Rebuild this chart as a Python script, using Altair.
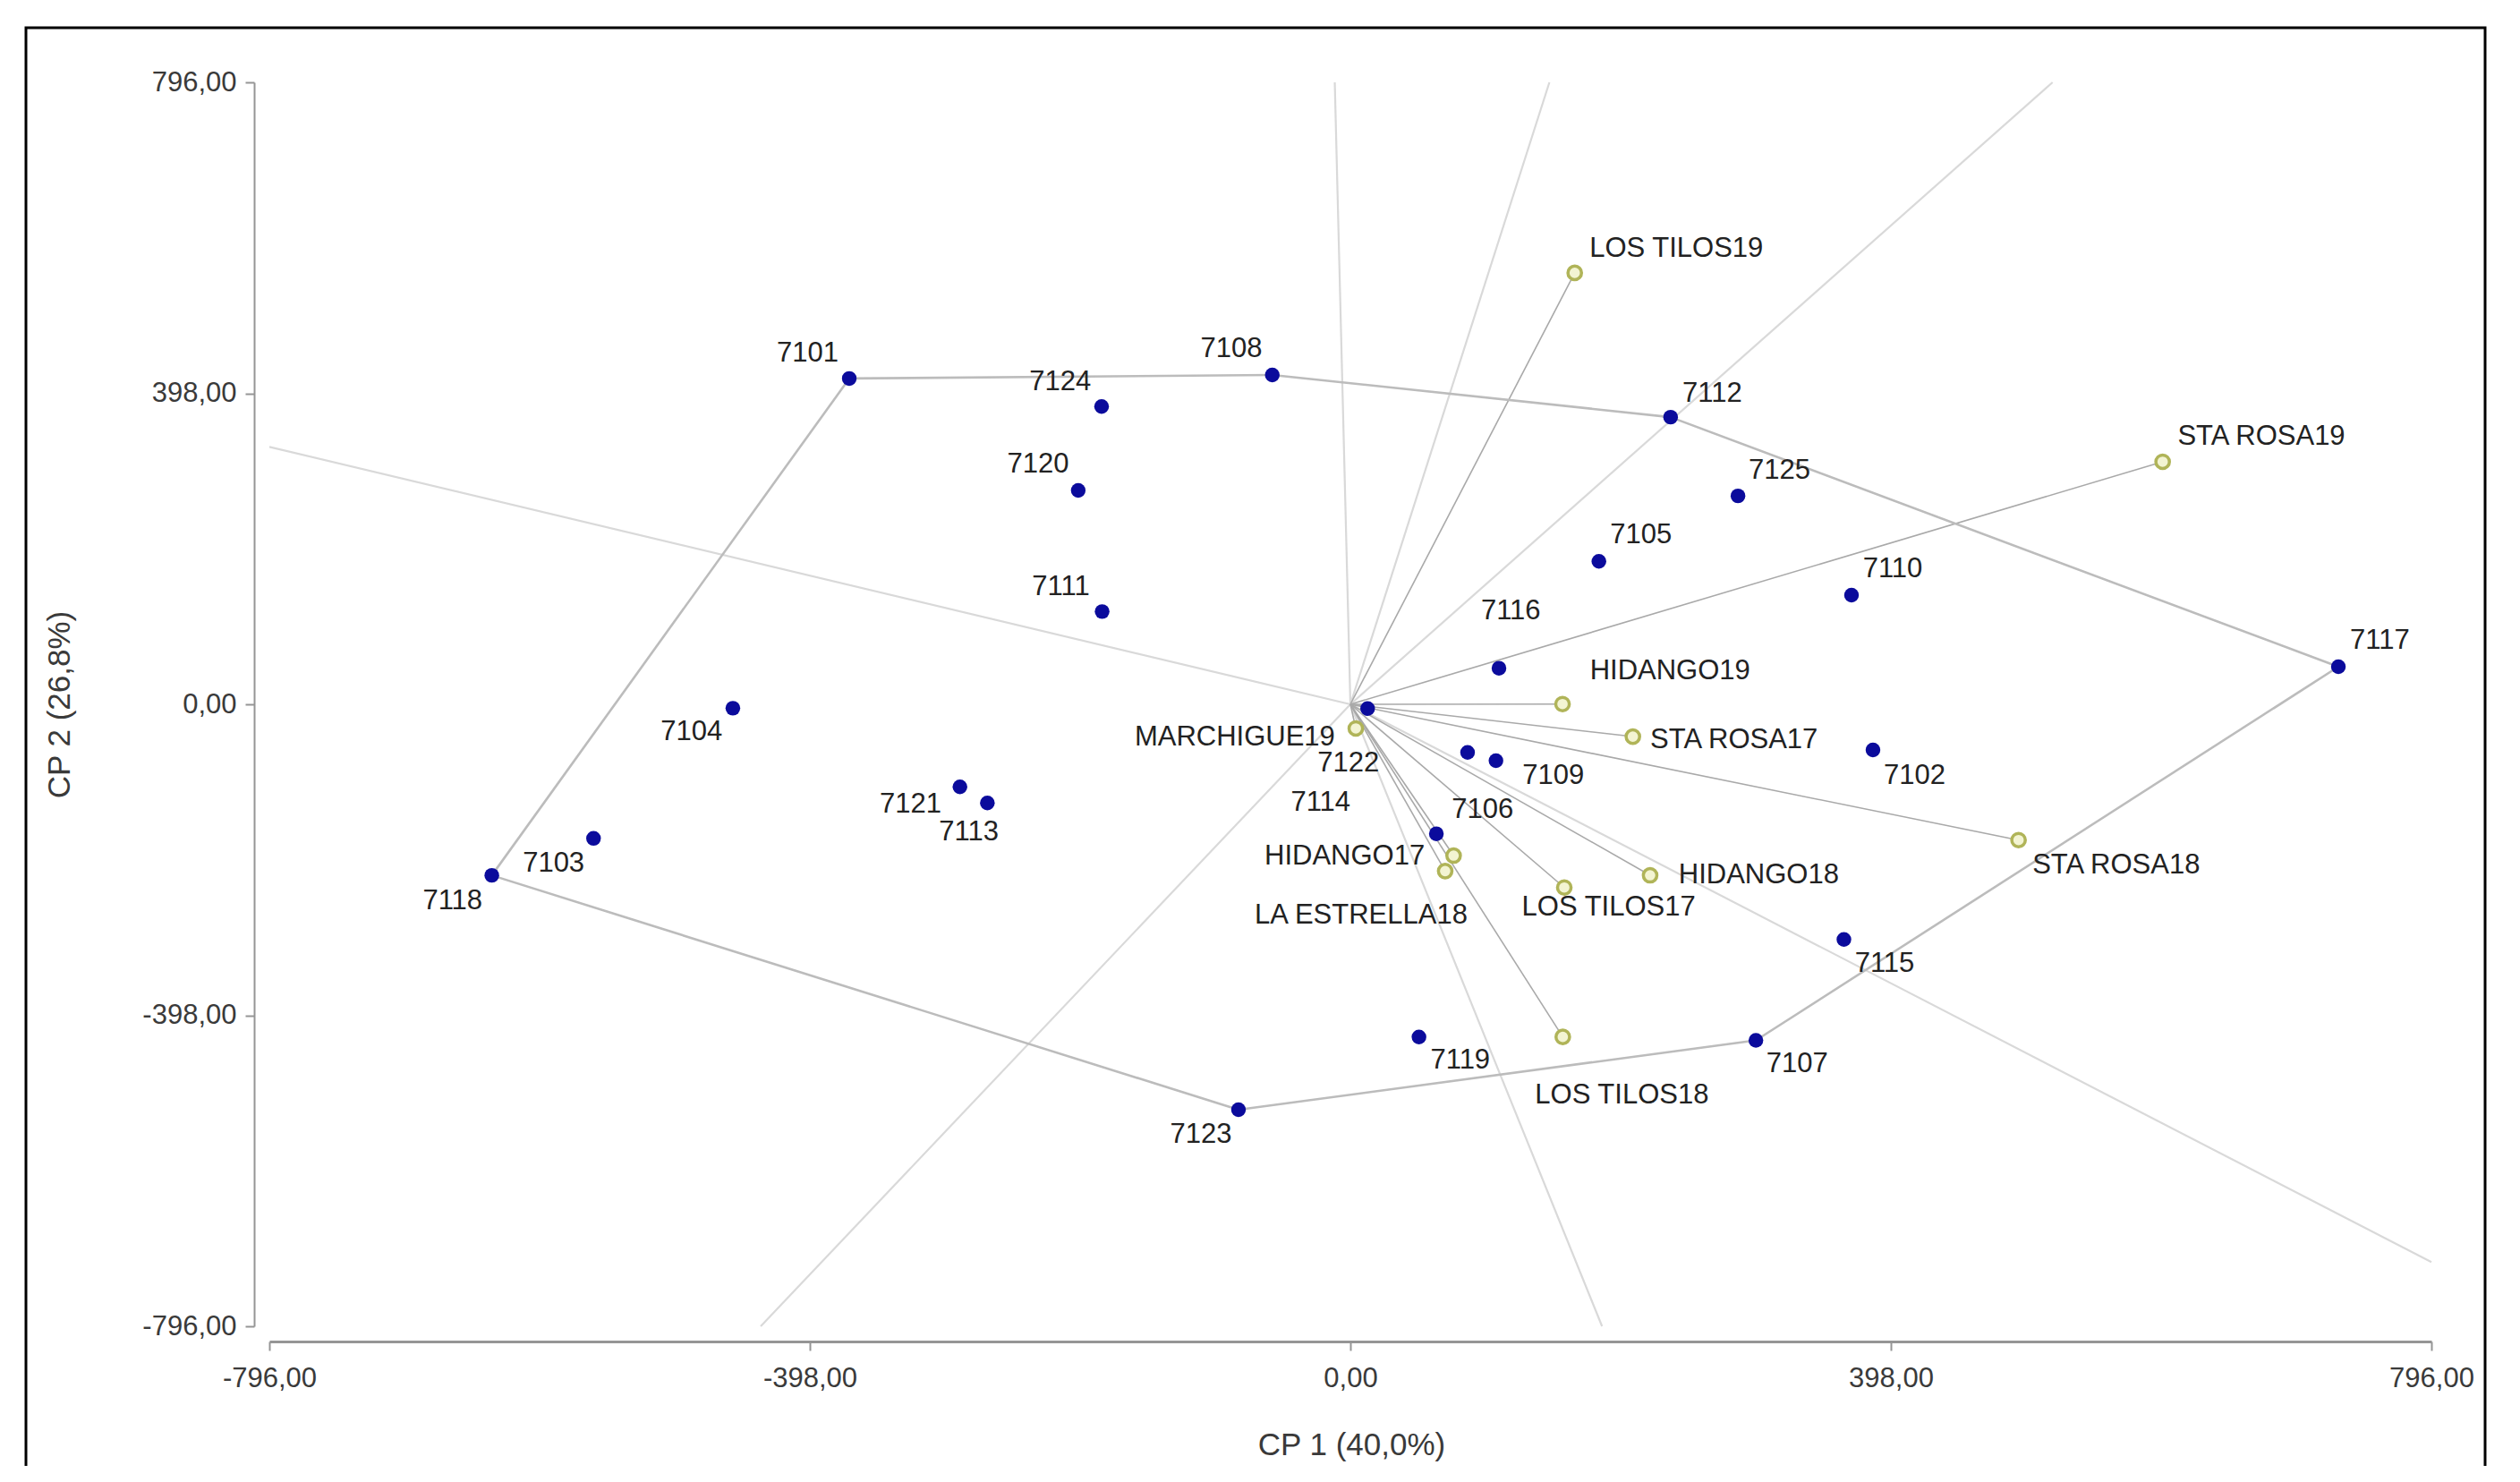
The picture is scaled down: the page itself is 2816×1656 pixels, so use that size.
import altair as alt
import pandas as pd
import numpy as np

# ---------------- data ----------------
geno_names = ["7101", "7102", "7103", "7104", "7105", "7106", "7107", "7108", "7109",
              "7110", "7111", "7112", "7113", "7114", "7115", "7116", "7117", "7118",
              "7119", "7120", "7121", "7122", "7123", "7124", "7125"]
geno_x = [-369.0, 384.8, -557.3, -454.7, 183.0, 86.3, 298.6, -57.5, 107.2,
          369.0, -182.8, 235.8, -267.3, 63.3, 363.4, 109.4, 727.5, -632.2,
          50.5, -200.4, -287.5, 12.7, -82.4, -183.2, 285.4]
geno_y = [417.0, -58.4, -171.6, -5.0, 183.0, -61.5, -430.1, 421.5, -72.2,
          139.7, 118.7, 367.5, -126.3, -165.7, -300.9, 46.2, 48.1, -218.9,
          -425.7, 273.7, -105.7, -5.4, -518.8, 381.1, 266.7]
# label anchor (text centre), in data units
geno_lab_x = [-399.7, 415.5, -586.7, -485.2, 214.0, 97.3, 329.0, -87.6, 149.4,
              399.3, -213.2, 266.5, -281.0, -21.9, 393.4, 118.1, 758.0, -661.1,
              80.9, -230.0, -323.9, -1.5, -110.0, -213.6, 316.0]
geno_lab_y = [449.0, -91.2, -204.4, -35.7, 216.5, -135.1, -460.4, 454.4, -91.3,
              172.5, 150.6, 397.8, -164.0, -125.6, -332.2, 118.8, 81.5, -252.5,
              -456.4, 306.4, -128.0, -75.9, -551.3, 412.7, 298.7]

env_names = ["LOS TILOS19", "STA ROSA19", "HIDANGO19", "STA ROSA17", "STA ROSA18",
             "HIDANGO18", "LOS TILOS17", "HIDANGO17", "LA ESTRELLA18", "MARCHIGUE19",
             "LOS TILOS18"]
env_x = [165.2, 598.1, 156.2, 208.0, 492.0, 220.7, 157.5, 76.0, 69.8, 4.0, 156.4]
env_y = [552.1, 310.4, 0.3, -41.3, -173.8, -218.8, -234.5, -193.6, -213.4, -30.9, -425.7]
env_lab_x = [240.0, 670.8, 235.4, 282.5, 563.9, 300.7, 190.2, -4.2, 7.9, -85.1, 199.9]
env_lab_y = [582.4, 342.5, 42.4, -45.6, -206.6, -218.8, -260.3, -194.6, -270.2, -42.4, -500.7]

axis_ticks = [-796, -398, 0, 398, 796]
lim = 796.0

# ---------------- derived geometry ----------------
geno = pd.DataFrame({"name": geno_names, "x": geno_x, "y": geno_y})
env = pd.DataFrame({"name": env_names, "x": env_x, "y": env_y})

# convex hull of genotypes (monotone chain)
pts = sorted(zip(geno_x, geno_y))
def cross(o, a, b):
    return (a[0] - o[0]) * (b[1] - o[1]) - (a[1] - o[1]) * (b[0] - o[0])
lower, upper = [], []
for p in pts:
    while len(lower) >= 2 and cross(lower[-2], lower[-1], p) <= 0:
        lower.pop()
    lower.append(p)
for p in reversed(pts):
    while len(upper) >= 2 and cross(upper[-2], upper[-1], p) <= 0:
        upper.pop()
    upper.append(p)
hull = lower[:-1] + upper[:-1]

hull_rows, ray_rows = [], []
for i in range(len(hull)):
    a = np.array(hull[i]); b = np.array(hull[(i + 1) % len(hull)])
    hull_rows.append({"x0": a[0], "y0": a[1], "x1": b[0], "y1": b[1]})
    d = b - a
    t = -np.dot(a, d) / np.dot(d, d)
    foot = a + t * d
    u = foot / np.linalg.norm(foot)
    s = min(lim / abs(c) for c in u if abs(c) > 1e-9)
    e = u * s
    ray_rows.append({"x0": 0.0, "y0": 0.0, "x1": e[0], "y1": e[1]})
hull_df = pd.DataFrame(hull_rows)
ray_df = pd.DataFrame(ray_rows)
vec_df = pd.DataFrame({"x0": 0.0, "y0": 0.0, "x1": env_x, "y1": env_y})

labels = pd.DataFrame({"name": geno_names + env_names,
                       "lx": geno_lab_x + env_lab_x,
                       "ly": geno_lab_y + env_lab_y})

# ---------------- styling ----------------
FONT = "Liberation Sans"
W, H = 2416, 1390
label_expr = "(datum.value < 0 ? '-' : '') + replace(format(abs(datum.value), '.2f'), '.', ',')"

xscale = alt.Scale(domain=[-lim, lim], nice=False, zero=False)
yscale = alt.Scale(domain=[-lim, lim], nice=False, zero=False)
x_axis = alt.Axis(values=axis_ticks, labelExpr=label_expr, title="CP 1 (40,0%)", offset=17,
                  grid=False, domainColor="#959595", domainWidth=3, tickColor="#959595",
                  tickWidth=2, tickSize=10, labelFont=FONT, labelFontSize=31,
                  labelColor="#3a3a3a", labelPadding=16, labelFlush=False, labelOverlap=False,
                  titleFont=FONT, titleFontSize=35, titleFontWeight="normal",
                  titleColor="#3a3a3a", titleX=1209, titleY=115, titleBaseline="middle",
                  titleAlign="center")
y_axis = alt.Axis(values=axis_ticks, labelExpr=label_expr, title="CP 2 (26,8%)", offset=17,
                  grid=False, domainColor="#959595", domainWidth=2, tickColor="#959595",
                  tickWidth=2, tickSize=10, labelFont=FONT, labelFontSize=31,
                  labelColor="#3a3a3a", labelPadding=10, labelFlush=False, labelOverlap=False,
                  titleFont=FONT, titleFontSize=35, titleFontWeight="normal",
                  titleColor="#3a3a3a", titleX=-218, titleY=H / 2, titleAngle=270,
                  titleBaseline="middle", titleAlign="center")

def X(f):
    return alt.X(f + ":Q", scale=xscale, axis=x_axis)

def Y(f):
    return alt.Y(f + ":Q", scale=yscale, axis=y_axis)

frame = alt.Chart(pd.DataFrame({"k": [0]})).mark_rect(
    fill="transparent", stroke="#000000", strokeWidth=3
).encode(x=alt.value(-272), x2=alt.value(2476), y=alt.value(-61), y2=alt.value(1700))

rays = alt.Chart(ray_df).mark_rule(color="#d9d9d9", strokeWidth=2.2).encode(
    x=X("x0"), y=Y("y0"), x2="x1", y2="y1")

vectors = alt.Chart(vec_df).mark_rule(color="#a9a9a9", strokeWidth=1.6).encode(
    x=X("x0"), y=Y("y0"), x2="x1", y2="y1")

edges = alt.Chart(hull_df).mark_rule(color="#bcbcbc", strokeWidth=2.6).encode(
    x=X("x0"), y=Y("y0"), x2="x1", y2="y1")

env_pts = alt.Chart(env).mark_circle(
    size=230, fill="#f3f4d2", stroke="#b0b458", strokeWidth=3.5, opacity=1
).encode(x=X("x"), y=Y("y"))

geno_pts = alt.Chart(geno).mark_circle(size=270, color="#0b0b9c", opacity=1).encode(
    x=X("x"), y=Y("y"))

texts = alt.Chart(labels).mark_text(
    font=FONT, fontSize=31, color="#222222", align="center", baseline="middle"
).encode(x=X("lx"), y=Y("ly"), text="name:N")

chart = alt.layer(frame, rays, vectors, edges, env_pts, geno_pts, texts).properties(
    width=W, height=H,
    autosize=alt.AutoSizeParams(type="none"),
    padding={"left": 293, "top": 84, "right": 80, "bottom": 156},
).configure(background="#ffffff").configure_view(strokeWidth=0, stroke="transparent")

chart.save("out.html", embed_options={"renderer": "svg", "actions": False})
